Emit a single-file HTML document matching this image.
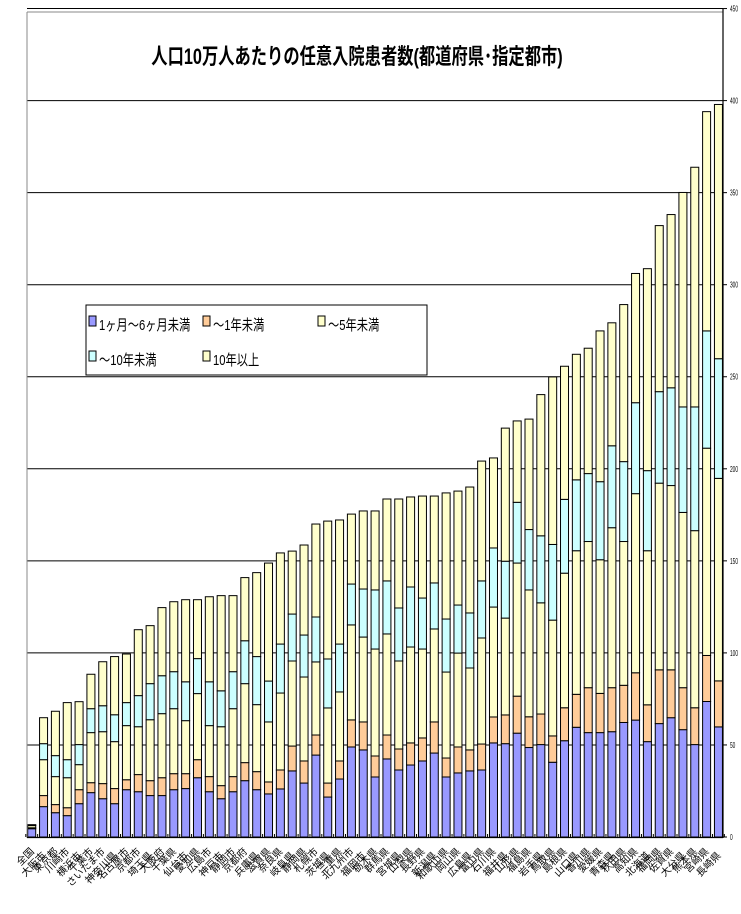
<!DOCTYPE html>
<html><head><meta charset="utf-8">
<style>
html,body{margin:0;padding:0;background:#fff;}
svg{display:block;font-family:"Liberation Sans","Noto Sans CJK JP",sans-serif;}
</style></head>
<body>
<svg id="chart" width="741" height="914" viewBox="0 0 741 914" xmlns="http://www.w3.org/2000/svg">
<rect x="0" y="0" width="741" height="914" fill="#fff"/>
<g id="grid"></g>
<g id="bars"></g>
<g id="axes"></g>
<g id="xlabels"></g>
<text x="357" y="64" text-anchor="middle" font-size="22" font-weight="bold" transform="translate(357 0) scale(0.74 1) translate(-357 0)" font-family="'Liberation Sans','Noto Sans CJK JP',sans-serif">人口10万人あたりの任意入院患者数(都道府県･指定都市)</text>
<g>
<rect x="86" y="305" width="341" height="70" fill="#fff" stroke="#000" stroke-width="1"/>
<g><rect x="89" y="316" width="7" height="10" fill="#9999ff" stroke="#000"/><text x="99" y="330" font-size="15" transform="translate(99 0) scale(0.75 1) translate(-99 0)">1ヶ月～6ヶ月未満</text></g>
<g><rect x="203" y="316" width="7" height="10" fill="#ffcc99" stroke="#000"/><text x="213" y="330" font-size="15" transform="translate(213 0) scale(0.75 1) translate(-213 0)">～1年未満</text></g>
<g><rect x="318" y="316" width="7" height="10" fill="#ffffcc" stroke="#000"/><text x="328" y="330" font-size="15" transform="translate(328 0) scale(0.75 1) translate(-328 0)">～5年未満</text></g>
<g><rect x="89" y="351" width="7" height="10" fill="#ccffff" stroke="#000"/><text x="99" y="365" font-size="15" transform="translate(99 0) scale(0.75 1) translate(-99 0)">～10年未満</text></g>
<g><rect x="203" y="351" width="7" height="10" fill="#ffffcc" stroke="#000"/><text x="213" y="365" font-size="15" transform="translate(213 0) scale(0.75 1) translate(-213 0)">10年以上</text></g>
</g>
</svg>
<script>
const categories = ["全国","大阪市","東京都","川崎市","横浜市","千葉市","さいたま市","神奈川県","名古屋市","京都市","埼玉県","大阪府","千葉県","仙台市","愛知県","広島市","神戸市","静岡市","京都府","兵庫県","滋賀県","奈良県","岐阜県","静岡県","札幌市","茨城県","三重県","北九州市","福岡市","栃木県","群馬県","宮城県","山梨県","長野県","新潟県","和歌山県","岡山県","広島県","富山県","石川県","福井県","山形県","福島県","岩手県","鳥取県","島根県","山口県","香川県","愛媛県","青森県","秋田県","高知県","北海道","福岡県","佐賀県","大分県","熊本県","宮崎県","長崎県"];
const s1m6m  = [4.5,16.5,13.2,11.6,18.1,24.1,20.8,18.1,25.7,24.6,22.5,22.5,25.7,26.3,32.2,24.6,20.8,24.6,30.6,25.7,23.4,26.1,35.9,29.3,44.5,21.7,31.5,48.9,47.3,32.6,42.4,36.4,39.1,41.3,45.6,32.6,34.8,35.9,36.4,51.1,50.7,56.4,48.6,50.2,40.6,52.3,59.6,56.7,56.7,57.2,62.2,63.5,51.8,61.6,64.8,58.3,50.2,73.6,59.8];
const s1y    = [0.5,6.0,4.4,4.3,7.6,5.4,8.2,8.2,5.4,9.3,8.1,9.7,8.7,8.1,9.8,8.2,7.1,8.2,9.8,9.8,6.5,10.3,13.5,12.0,10.9,7.6,9.8,14.7,15.2,11.4,13.0,11.4,12.0,12.5,16.9,10.3,14.1,11.4,14.1,14.1,15.6,20.1,16.7,16.6,14.3,17.9,17.9,24.4,21.3,23.9,20.2,25.7,20.0,29.2,26.0,22.8,20.0,25.0,25.0];
const s5y    = [1.2,19.5,15.2,16.3,13.6,27.2,28.2,25.5,29.4,26.0,33.1,34.8,35.3,28.8,35.9,27.7,32.0,36.9,42.9,36.4,32.6,41.8,46.2,45.6,39.7,40.8,37.5,51.6,46.1,58.1,54.9,47.8,52.1,48.3,50.5,46.7,51.0,44.5,57.6,59.7,52.6,72.3,68.9,60.4,62.9,73.1,78.0,79.4,72.6,86.9,78.1,97.3,83.7,101.4,100.1,95.2,96.2,112.6,110.0];
const s10y   = [0.3,8.7,11.4,9.8,10.9,13.0,14.1,14.6,12.5,16.9,19.6,20.6,20.1,21.1,19.0,23.8,19.5,20.1,23.3,26.1,22.2,26.6,25.5,22.8,24.4,26.6,26.0,22.2,26.1,32.1,28.8,28.8,32.6,27.7,25.0,28.8,26.1,29.9,31.0,32.1,30.9,33.0,32.8,36.4,41.1,40.1,38.5,36.9,42.4,44.5,43.4,49.4,43.5,49.7,53.1,57.3,67.2,63.7,65.0];
const s10plus= [0.2,14.1,24.1,31.0,23.3,18.7,23.9,31.6,26.4,35.8,31.5,37.0,38.0,44.6,32.0,46.2,51.7,41.3,34.3,45.6,64.1,49.5,34.2,48.9,50.5,74.9,67.4,38.0,42.4,42.9,44.5,59.2,48.9,55.4,47.2,68.5,61.9,68.4,65.1,48.9,72.3,44.2,60.0,76.7,91.0,72.3,68.2,68.1,81.9,66.8,85.3,70.2,109.7,90.2,94.1,116.5,130.2,119.1,138.1];
const yTicks = [0,50,100,150,200,250,300,350,400,450];
const seriesColors = ["#9999ff","#ffcc99","#ffffcc","#ccffff","#ffffcc"];
const seriesNames = ["1m-6m","under-1y","under-5y","under-10y","10y-plus"];

const NS="http://www.w3.org/2000/svg";
const plotL=27, plotR=723, x0=25.8, step=11.84, barW=8;
function yScale(v){return 837 - v*1.841;}
function xCenter(i){return x0 + step*(i+0.5);}
function mk(tag,attrs,parent){const e=document.createElementNS(NS,tag);for(const k in attrs)e.setAttribute(k,attrs[k]);parent.appendChild(e);return e;}

const grid=document.getElementById('grid');
yTicks.forEach(t=>{
  if(t===0) return;
  const l=mk('line',{x1:plotL,x2:plotR,y1:yScale(t),y2:yScale(t),stroke:'#000','stroke-width':1},grid);
  
  
});
const axes=document.getElementById('axes');
const tb=mk('line',{x1:plotL,x2:plotR,y1:12,y2:12,stroke:'#888','stroke-width':1},axes);


const la=mk('line',{x1:plotL,x2:plotL,y1:12,y2:yScale(0)+1,stroke:'#888','stroke-width':1},axes);


const xa=mk('line',{x1:plotL,x2:plotR,y1:yScale(0)+0.5,y2:yScale(0)+0.5,stroke:'#000','stroke-width':1.2},axes);


const ra=mk('line',{x1:plotR,x2:plotR,y1:yScale(450),y2:yScale(0)+1,stroke:'#000','stroke-width':1.2},axes);


yTicks.forEach(t=>{
  mk('line',{x1:plotR,x2:plotR+4,y1:yScale(t),y2:yScale(t),stroke:'#000'},axes);
  const tx=mk('text',{x:plotR+7,y:yScale(t)+3,'font-size':8,transform:`translate(${plotR+7} 0) scale(0.6 1) translate(${-(plotR+7)} 0)`},axes);
  tx.textContent=String(t);
  
  
});
for(let i=0;i<=categories.length;i++){
  const xx=x0+step*i;
  mk('line',{x1:xx,x2:xx,y1:yScale(0),y2:yScale(0)-3,stroke:'#000'},axes);
}

const bars=document.getElementById('bars');
const series=[s1m6m,s1y,s5y,s10y,s10plus];
categories.forEach((c,i)=>{
  let cum=0;
  const cx=xCenter(i);
  series.forEach((s,k)=>{
    const v=s[i];
    const r=mk('rect',{x:cx-barW/2,y:yScale(cum+v),width:barW,height:Math.max(0,yScale(cum)-yScale(cum+v)),fill:seriesColors[k],stroke:'#000','stroke-width':1},bars);
    
    
    cum+=v;
  });
});

const xl=document.getElementById('xlabels');
categories.forEach((c,i)=>{
  const cx=xCenter(i)+3, cy=852 + (i%3===1?4:0);
  const t=mk('text',{x:cx,y:cy,'font-size':10,'text-anchor':'end',transform:`rotate(-45 ${cx} ${cy})`},xl);
  t.textContent=c;
  
  
});
</script>
</body></html>
